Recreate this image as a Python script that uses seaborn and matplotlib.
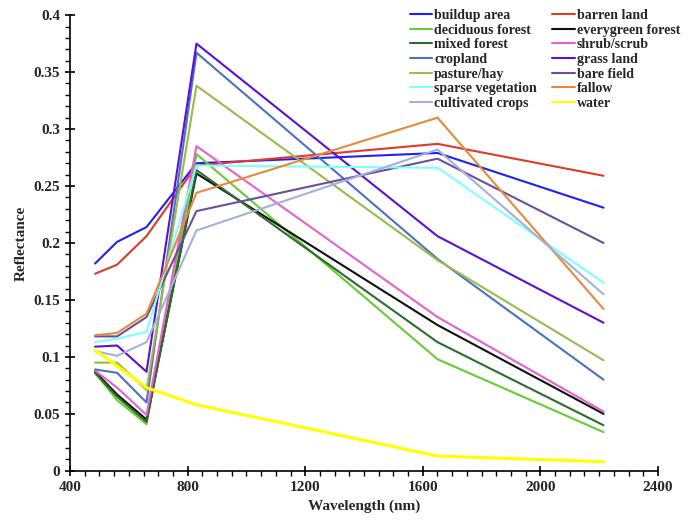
import pandas as pd
import matplotlib.pyplot as plt
import matplotlib.ticker as mticker
import seaborn as sns

# ---------- data ----------
wavelength = [485, 560, 660, 830, 1650, 2215]

classes = ['buildup area', 'barren land', 'deciduous forest', 'everygreen forest',
           'mixed forest', 'shrub/scrub', 'cropland', 'grass land',
           'pasture/hay', 'bare field', 'sparse vegetation', 'fallow',
           'cultivated crops', 'water']

buildup = [0.182, 0.201, 0.214, 0.270, 0.279, 0.231]
barren = [0.173, 0.181, 0.206, 0.268, 0.287, 0.259]
deciduous = [0.086, 0.062, 0.041, 0.278, 0.098, 0.034]
evergreen = [0.087, 0.067, 0.045, 0.261, 0.128, 0.050]
mixed = [0.086, 0.065, 0.043, 0.264, 0.113, 0.040]
shrub = [0.088, 0.073, 0.049, 0.285, 0.135, 0.052]
cropland = [0.089, 0.086, 0.060, 0.367, 0.186, 0.080]
grass = [0.109, 0.110, 0.087, 0.375, 0.206, 0.130]
pasture = [0.095, 0.095, 0.071, 0.338, 0.185, 0.097]
bare = [0.118, 0.118, 0.135, 0.228, 0.274, 0.200]
sparse = [0.113, 0.116, 0.122, 0.268, 0.266, 0.165]
fallow = [0.119, 0.121, 0.138, 0.244, 0.310, 0.142]
cultivated = [0.105, 0.101, 0.113, 0.211, 0.282, 0.155]
water = [0.106, 0.092, 0.073, 0.058, 0.013, 0.008]

series = [buildup, barren, deciduous, evergreen, mixed, shrub, cropland,
          grass, pasture, bare, sparse, fallow, cultivated, water]

colors = ['#1f1fff', '#e03a2a', '#66cc33', '#111111', '#2e6b2e', '#e860d0',
          '#4a72c0', '#5b10d8', '#98bb4b', '#6b4f9e', '#80ffff', '#e8893a',
          '#a4b0dc', '#ffff00']

# long-form table for seaborn
rows = []
for name, vals in zip(classes, series):
    for w, v in zip(wavelength, vals):
        rows.append({'Wavelength': w, 'Reflectance': v, 'class': name})
df = pd.DataFrame(rows)

# ---------- plot ----------
sns.set_style('white')
plt.rcParams['font.family'] = ['Liberation Serif', 'DejaVu Serif']
plt.rcParams['font.weight'] = 'bold'

fig = plt.figure(figsize=(6.94, 5.22), dpi=100)
ax = fig.add_axes([0.101, 0.098, 0.847, 0.873])

sns.lineplot(data=df, x='Wavelength', y='Reflectance', hue='class',
             hue_order=classes, palette=dict(zip(classes, colors)),
             linewidth=1.5, ax=ax)
# water line is a bit thicker
ax.lines[len(classes) - 1].set_linewidth(2.2)

ax.set_xlim(400, 2400)
ax.set_ylim(0, 0.4)
ax.xaxis.set_major_locator(mticker.MultipleLocator(400))
ax.xaxis.set_minor_locator(mticker.MultipleLocator(50))
ax.yaxis.set_major_locator(mticker.MultipleLocator(0.05))
ax.yaxis.set_minor_locator(mticker.MultipleLocator(0.01))
ax.yaxis.set_major_formatter(mticker.FuncFormatter(lambda v, p: f'{v:g}'))

sns.despine(ax=ax)
for s in ['left', 'bottom']:
    ax.spines[s].set_color('black')
    ax.spines[s].set_linewidth(1.2)
ax.tick_params(which='major', direction='inout', length=7, width=1.2,
               labelsize=11, color='black', left=True, bottom=True)
ax.tick_params(which='minor', direction='out', length=3.5, width=1,
               color='black', left=True, bottom=True)
for lab in ax.get_xticklabels() + ax.get_yticklabels():
    lab.set_fontweight('bold')

ax.set_xlabel('Wavelength (nm)', fontsize=11, fontweight='bold')
ax.set_ylabel('Reflectance', fontsize=11, fontweight='bold')

handles, labels = ax.get_legend_handles_labels()
order = [0, 2, 4, 6, 8, 10, 12, 1, 3, 5, 7, 9, 11, 13]
ax.legend([handles[i] for i in order], [labels[i] for i in order],
          ncol=2, frameon=False, loc='upper left',
          bbox_to_anchor=(410 / 694, 1 - 9 / 522), bbox_transform=fig.transFigure,
          borderaxespad=0, borderpad=0,
          labelspacing=0.12, handlelength=1.6, handletextpad=0.15,
          columnspacing=1.1, prop={'weight': 'bold', 'size': 10})

fig.savefig('out.png', dpi=100)
